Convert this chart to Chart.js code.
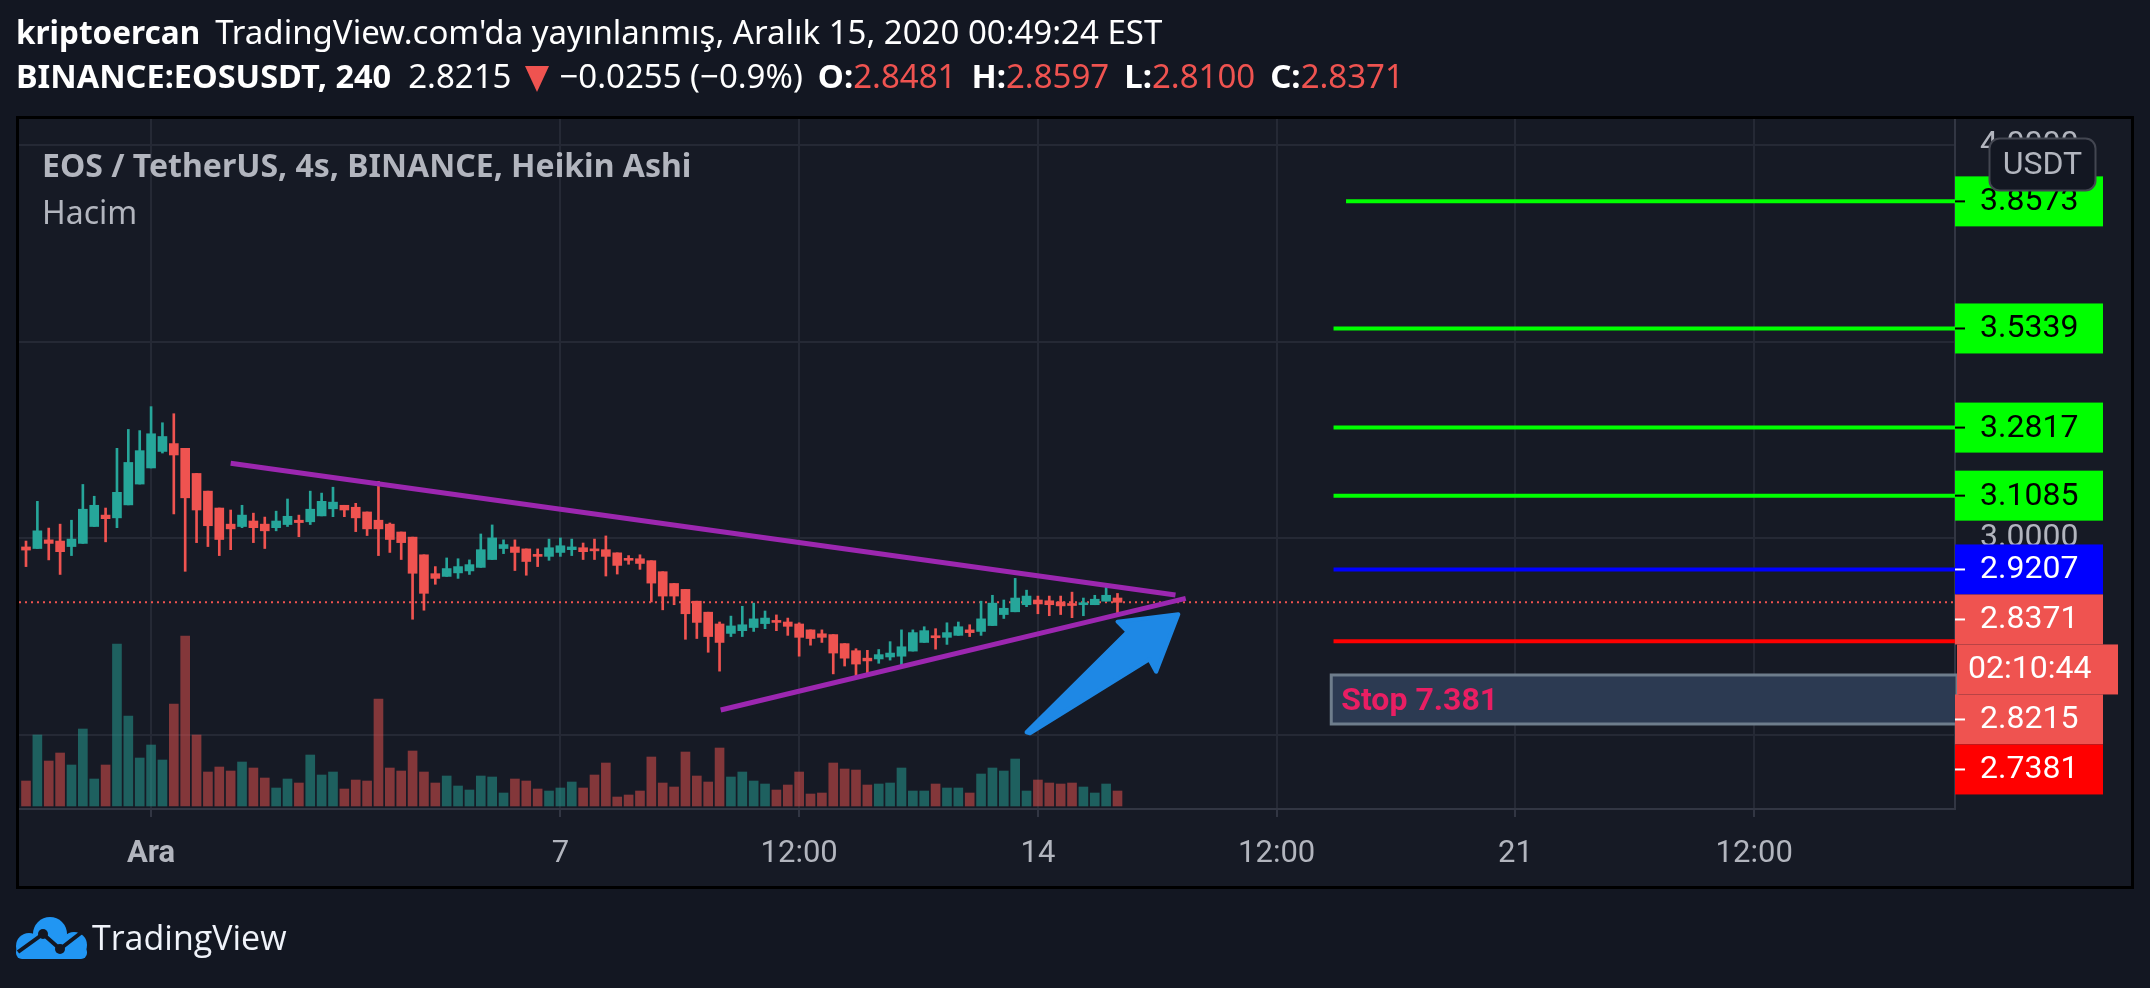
<!DOCTYPE html>
<html><head><meta charset="utf-8">
<script src="https://cdn.jsdelivr.net/npm/chart.js@4.4.0/dist/chart.umd.min.js"></script>
<style>
html,body{margin:0;padding:0;background:#131722;width:2150px;height:988px;overflow:hidden;}
#wrap{position:relative;width:2150px;height:988px;}
#c{position:absolute;left:0;top:0;}
.t{position:absolute;white-space:nowrap;font-family:"Noto Sans","Open Sans",sans-serif;}
.r{color:#ef5350}
.g{margin-left:15px}
</style></head><body>
<div id="wrap">
<canvas id="c" width="2150" height="988"></canvas>
<div class="t" style="left:16px;top:12px;font-size:33px;line-height:40px;color:#ffffff"><b style="font-size:31.5px">kriptoercan</b><span class="g">TradingView.com'da yayınlanmış, Aralık 15, 2020 00:49:24 EST</span></div>
<div class="t" style="left:16px;top:56px;font-size:33px;line-height:40px;color:#ffffff"><b style="font-size:32.5px">BINANCE:EOSUSDT, 240</b><span style="margin-left:17px">2.8215</span><svg style="margin-left:14px;vertical-align:-4px" width="24" height="26"><polygon points="0,0 24,0 12,26" fill="#ef5350"/></svg><span style="margin-left:10px">−0.0255 (−0.9%)</span><b class="g">O:</b><span class="r">2.8481</span><b class="g">H:</b><span class="r">2.8597</span><b class="g">L:</b><span class="r">2.8100</span><b class="g">C:</b><span class="r">2.8371</span></div>
<div class="t" style="left:42px;top:145px;font-size:32px;line-height:40px;color:#b2b5be;font-weight:bold">EOS / TetherUS, 4s, BINANCE, Heikin Ashi</div>
<div class="t" style="left:42px;top:192px;font-size:32px;line-height:40px;color:#b2b5be">Hacim</div>
<svg style="position:absolute;left:16px;top:917px" width="74" height="44">
<g fill="#2196f3"><circle cx="34" cy="17" r="17"/><circle cx="13" cy="29" r="13"/><circle cx="58" cy="28" r="13"/><rect x="12" y="24" width="48" height="18"/><rect x="0" y="29" width="71" height="13" rx="6"/></g>
<polyline points="2,35 27,17 44,32 66,15" fill="none" stroke="#131722" stroke-width="4"/>
<circle cx="27" cy="17" r="5" fill="#131722"/><circle cx="44" cy="32" r="5" fill="#131722"/>
</svg>
<div class="t" style="left:92px;top:915px;font-size:34px;line-height:44px;color:#f0f3fa;font-family:'Open Sans',sans-serif">TradingView</div>
</div>
<script>
// ---- data (Heikin Ashi 4h candles, EOS/USDT) ----
const openV = [2.978,2.974,2.996,2.993,2.979,2.987,3.030,3.059,3.052,3.085,3.138,3.179,3.221,3.241,3.229,3.165,3.120,3.077,3.036,3.030,
3.044,3.036,3.027,3.035,3.046,3.042,3.057,3.075,3.084,3.079,3.067,3.046,3.036,3.016,3.003,2.958,2.910,2.903,2.912,2.917,
2.926,2.946,2.974,2.978,2.973,2.959,2.954,2.964,2.971,2.976,2.973,2.971,2.963,2.948,2.948,2.943,2.915,2.885,2.870,2.840,
2.812,2.782,2.758,2.765,2.773,2.783,2.790,2.787,2.782,2.767,2.757,2.755,2.732,2.714,2.695,2.693,2.698,2.700,2.713,2.735,
2.750,2.748,2.753,2.767,2.763,2.778,2.806,2.813,2.831,2.843,2.841,2.838,2.833,2.831,2.831,2.840,2.8481];
const highV = [2.993,3.094,3.026,3.036,3.046,3.137,3.107,3.077,3.229,3.277,3.274,3.335,3.294,3.317,3.229,3.165,3.120,3.077,3.072,3.084,
3.064,3.054,3.069,3.100,3.059,3.120,3.115,3.130,3.084,3.089,3.067,3.145,3.039,3.016,3.003,2.958,2.928,2.950,2.948,2.945,
3.011,3.034,2.996,2.996,2.973,2.973,2.998,3.001,2.998,2.988,2.998,3.006,2.963,2.956,2.958,2.943,2.915,2.885,2.870,2.840,
2.812,2.787,2.802,2.827,2.835,2.815,2.805,2.797,2.785,2.767,2.767,2.755,2.732,2.719,2.715,2.717,2.737,2.767,2.767,2.775,
2.770,2.785,2.787,2.780,2.840,2.855,2.843,2.898,2.868,2.853,2.853,2.853,2.863,2.848,2.855,2.878,2.8597];
const lowV = [2.928,2.974,2.945,2.908,2.956,2.987,3.030,2.991,3.027,3.085,3.138,3.179,3.217,3.062,2.916,2.989,2.979,2.956,2.971,3.027,
2.989,2.974,3.019,3.030,3.004,3.035,3.057,3.055,3.055,3.017,3.007,2.956,2.964,2.946,2.794,2.817,2.883,2.903,2.898,2.908,
2.926,2.946,2.961,2.918,2.906,2.928,2.944,2.954,2.956,2.946,2.946,2.904,2.909,2.934,2.921,2.838,2.818,2.831,2.743,2.745,
2.710,2.662,2.750,2.750,2.763,2.770,2.765,2.753,2.700,2.728,2.735,2.655,2.675,2.647,2.655,2.682,2.690,2.677,2.713,2.735,
2.718,2.730,2.753,2.750,2.753,2.778,2.796,2.813,2.826,2.808,2.803,2.806,2.798,2.803,2.831,2.840,2.8100];
const closeV = [2.970,3.019,2.987,2.966,2.998,3.074,3.084,3.050,3.117,3.193,3.223,3.266,3.259,3.212,3.103,3.072,3.032,2.997,3.024,3.059,
3.027,3.019,3.044,3.056,3.040,3.074,3.094,3.092,3.072,3.052,3.024,3.024,2.997,2.989,2.911,2.860,2.898,2.923,2.928,2.933,
2.971,3.001,2.984,2.964,2.941,2.954,2.976,2.981,2.978,2.966,2.968,2.954,2.931,2.944,2.936,2.886,2.853,2.853,2.808,2.786,
2.750,2.735,2.777,2.780,2.795,2.797,2.786,2.776,2.748,2.745,2.748,2.708,2.695,2.680,2.688,2.704,2.708,2.724,2.760,2.765,
2.747,2.760,2.775,2.760,2.795,2.835,2.822,2.848,2.853,2.833,2.831,2.828,2.829,2.836,2.845,2.855,2.8371];
const volumeV = [25,71,45,53,41,77,27,41,162,90,48,61,46,102,170,71,34,39,35,44,
38,28,18,27,23,51,31,34,17,26,25,107,38,35,55,34,23,30,20,16,
30,29,13,27,25,17,15,18,24,18,31,43,9,11,15,49,23,19,54,30,
24,58,29,34,25,22,16,21,34,12,13,43,37,36,21,22,23,38,15,15,
22,18,18,13,32,38,35,47,15,26,23,22,23,19,13,22,15];
const xTickPos = [11,47,68,89,110,131,152];
const xTickLabels = ['Ara','7','12:00','14','12:00','21','12:00'];
const yTickValues = [2.5,3.0,3.5,4.0];
const levelValues = [3.8573,3.5339,3.2817,3.1085,2.9207,2.7381];
const levelStartX = [116.1,115.0,115.0,115.0,115.0,115.0];
const levelColors = ['#00ff00','#00ff00','#00ff00','#00ff00','#0000ff','#ff0000'];
const lastPrice = 2.8371;
const upperTrend = [{x:18.0,y:3.1908},{x:101.1,y:2.8557}];
const lowerTrend = [{x:61.1,y:2.5631},{x:102.0,y:2.8473}];
const arrowPts = [{x:88.0,y:2.5064},{x:96.9,y:2.7623},{x:96.0,y:2.7878},{x:101.35,y:2.8066},{x:99.4,y:2.6606},{x:98.8,y:2.6921},{x:88.3,y:2.5038}];
const stopBox = {x0:114.8, yTop:2.6522, yBot:2.5275, text:'Stop 7.381'};
const axisLabels = [
  {v:3.8573,bg:'#00ff00',fg:'#000000'},
  {v:3.5339,bg:'#00ff00',fg:'#000000'},
  {v:3.2817,bg:'#00ff00',fg:'#000000'},
  {v:3.1085,bg:'#00ff00',fg:'#000000'},
  {v:2.9207,bg:'#0000ff',fg:'#ffffff'},
  {v:2.8371,bg:'#ef5350',fg:'#ffffff'},
  {text:'02:10:44',bg:'#ef5350',fg:'#ffffff',wide:true},
  {v:2.8215,bg:'#ef5350',fg:'#ffffff'},
  {v:2.7381,bg:'#ff0000',fg:'#ffffff'}
];
const X_MIN = -0.616, X_MAX = 169.66, Y_MIN = 2.3112, Y_MAX = 4.0669;

const UP = '#26a69a', DOWN = '#ef5350';
const isUp = i => closeV[i] >= openV[i];
const bodies = openV.map((o,i)=>({x:i, y:[Math.min(o,closeV[i]), Math.max(o,closeV[i])]}));
const wicks = openV.map((o,i)=>({x:i, y:[lowV[i], highV[i]]}));
const vols = volumeV.map((v,i)=>({x:i, y:v}));

const bgPlugin = {
  id:'bg',
  beforeDraw(chart){
    const c = chart.ctx; c.save();
    c.fillStyle='#131722'; c.fillRect(0,0,chart.width,chart.height);
    c.fillStyle='#161a25'; c.fillRect(18,118,2114,770);
    c.restore();
  },
  afterDatasetsDraw(chart){
    const c = chart.ctx, xs = chart.scales.x, ys = chart.scales.y, a = chart.chartArea;
    c.save();
    const bx = xs.getPixelForValue(stopBox.x0), by = ys.getPixelForValue(stopBox.yTop), bb = ys.getPixelForValue(stopBox.yBot);
    c.fillStyle='#2c3a52'; c.fillRect(bx, by, a.right-bx, bb-by);
    c.strokeStyle='#6e7d8c'; c.lineWidth=3; c.strokeRect(bx, by, a.right-bx+2, bb-by);
    c.fillStyle='#e91e63'; c.font='bold 32px Roboto'; c.textBaseline='middle'; c.textAlign='left';
    c.fillText(stopBox.text, bx+10, (by+bb)/2+3);
    c.beginPath();
    arrowPts.forEach((p,i)=>{const px=xs.getPixelForValue(p.x), py=ys.getPixelForValue(p.y); i?c.lineTo(px,py):c.moveTo(px,py);});
    c.closePath();
    c.fillStyle='#1e88e5'; c.strokeStyle='#1e88e5'; c.lineJoin='round'; c.lineWidth=4;
    c.fill(); c.stroke();
    c.restore();
  },
  afterDraw(chart){
    const c = chart.ctx, ys = chart.scales.y;
    c.save();
    const L = 1955, W = 148, H = 50;
    let prev = -1e9;
    c.font = '32px Roboto'; c.textBaseline='middle'; c.textAlign='left';
    axisLabels.forEach(lb=>{
      let nat = lb.v !== undefined ? ys.getPixelForValue(lb.v) : prev + H;
      const cy = Math.max(nat, prev + H);
      prev = cy;
      c.fillStyle = lb.bg;
      if (lb.wide) c.fillRect(L+2, cy-H/2, 161, H); else c.fillRect(L, cy-H/2, W, H);
      c.fillStyle = lb.fg;
      if (lb.wide) c.fillText(lb.text, 1968, cy+1);
      else {
        c.fillText(lb.v.toFixed(4), 1980, cy+1);
        c.fillRect(L, cy-1, 10, 2);
      }
    });
    c.beginPath(); c.roundRect(1989.5,138.5,106,52,10);
    c.fillStyle='#131722'; c.fill(); c.strokeStyle='#434651'; c.lineWidth=2; c.stroke();
    c.fillStyle='#b2b5be'; c.textAlign='center'; c.font='32px Roboto';
    c.fillText('USDT', 2042.5, 166);
    c.strokeStyle='#000000'; c.lineWidth=3; c.strokeRect(17.5,117.5,2115,770);
    c.restore();
  }
};

new Chart(document.getElementById('c'), {
  data:{
    datasets:[
      ...levelValues.map((v,i)=>({type:'line', data:[{x:levelStartX[i],y:v},{x:X_MAX,y:v}], borderColor:levelColors[i], borderWidth:4, pointRadius:0, order:0})),
      {type:'line', data:[{x:X_MIN,y:lastPrice},{x:X_MAX,y:lastPrice}], borderColor:'#ef5350', borderWidth:2, borderDash:[2,4], pointRadius:0, order:5},
      {type:'line', data:upperTrend, borderColor:'#9c27b0', borderWidth:5, pointRadius:0, order:0},
      {type:'line', data:lowerTrend, borderColor:'#9c27b0', borderWidth:5, pointRadius:0, order:0},
      {type:'bar', data:bodies, yAxisID:'y', grouped:false, barThickness:9, minBarLength:2, borderWidth:0,
        backgroundColor:ctx=>isUp(ctx.dataIndex)?UP:DOWN, order:2},
      {type:'bar', data:wicks, yAxisID:'y', grouped:false, barThickness:2, minBarLength:1, borderWidth:0,
        backgroundColor:ctx=>isUp(ctx.dataIndex)?UP:DOWN, order:3},
      {type:'bar', data:vols, yAxisID:'yv', grouped:false, barThickness:9, borderWidth:0,
        backgroundColor:ctx=>isUp(ctx.dataIndex)?'rgba(38,166,154,0.5)':'rgba(239,83,80,0.5)', order:6}
    ]
  },
  options:{
    responsive:false, animation:false, devicePixelRatio:1, events:[],
    layout:{padding:{left:19, top:119, right:19, bottom:101}},
    plugins:{legend:{display:false}, tooltip:{enabled:false}},
    scales:{
      x:{type:'linear', min:X_MIN, max:X_MAX, position:'bottom', offset:false,
        afterFit(s){s.height=78;},
        afterBuildTicks(s){s.ticks = xTickPos.map(v=>({value:v}));},
        grid:{offset:false, color:'#252935', lineWidth:2, drawTicks:true, tickLength:8, tickColor:'#323643', tickWidth:2},
        border:{display:true, color:'#323643', width:2},
        ticks:{autoSkip:false, maxRotation:0, padding:19, color:'#b2b5be',
          font:c=>({family:'Roboto', size:31, weight: c.index===0 ? 'bold' : 'normal'}),
          callback:(v,i)=>xTickLabels[i]}
      },
      y:{type:'linear', position:'right', min:Y_MIN, max:Y_MAX,
        afterFit(s){s.width=176;},
        afterBuildTicks(s){s.ticks = yTickValues.map(v=>({value:v}));},
        grid:{color:'#252935', lineWidth:2, drawTicks:false},
        border:{display:true, color:'#323643', width:2},
        ticks:{padding:25, color:'#b2b5be', font:{family:'Roboto', size:32}, callback:v=>Number(v).toFixed(4)}
      },
      yv:{type:'linear', display:false, min:-3, max:687}
    }
  },
  plugins:[bgPlugin]
});
</script>
</body></html>
